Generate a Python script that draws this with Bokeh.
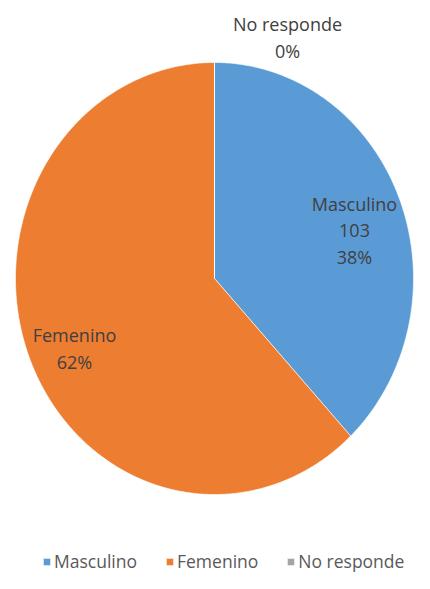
import numpy as np
from bokeh.plotting import figure
from bokeh.models import ColumnDataSource, Range1d, Legend, LegendItem
from bokeh.core.properties import value
from bokeh.embed import file_html
from bokeh.resources import INLINE

# ---- data ----
categories = ["Masculino", "Femenino", "No responde"]
counts = [103, 168, 0]
percents = ["38%", "62%", "0%"]
label_texts = ["Masculino\n103\n38%", "Femenino\n62%", "No responde\n0%"]
colors = ["#5B9BD5", "#ED7D31", "#A5A5A5"]

# ---- layout ----
W, H = 414, 573
CX, CY = 214, 278          # pie centre (px)
RX, RY = 199, 216          # pie radii (px)
LABEL_POS = [(354, 230), (74, 348), (287, 37)]
FONT = "Open Sans"

p = figure(width=W, height=H, output_backend="svg", toolbar_location=None,
           x_range=Range1d(0, W), y_range=Range1d(H, 0),
           min_border=0, outline_line_color=None)
p.axis.visible = False
p.grid.visible = False
p.background_fill_color = "white"

total = float(sum(counts))
fracs = [c / total for c in counts]
start = np.pi / 2
xs, ys = [], []
for f in fracs:
    end = start - f * 2 * np.pi
    n = max(2, int(abs(end - start) * 80))
    t = np.linspace(start, end, n)
    xs.append([CX] + list(CX + RX * np.cos(t)))
    ys.append([CY] + list(CY - RY * np.sin(t)))
    start = end

src = ColumnDataSource(dict(xs=xs, ys=ys, color=colors, label=categories))
r = p.patches("xs", "ys", source=src, fill_color="color", line_color="white",
              line_width=1, line_alpha=0.6)

lsrc = ColumnDataSource(dict(x=[q[0] for q in LABEL_POS], y=[q[1] for q in LABEL_POS],
                             t=label_texts))
p.text("x", "y", text="t", source=lsrc, text_align="center", text_baseline="middle",
       text_font=value(FONT), text_font_size="18px", text_color="#404040",
       text_line_height=1.12)

items = [LegendItem(label=categories[i], renderers=[r], index=i) for i in range(3)]
legend = Legend(items=items, orientation="horizontal", location=(42, 0),
                glyph_width=9, glyph_height=9, label_standoff=3, spacing=28,
                padding=0, margin=0, border_line_color=None,
                background_fill_alpha=0,
                label_text_font=FONT, label_text_font_size="17.5px",
                label_text_color="#595959", label_height=14)
p.add_layout(legend, "center")

open("out.html", "w").write(file_html(p, INLINE))
